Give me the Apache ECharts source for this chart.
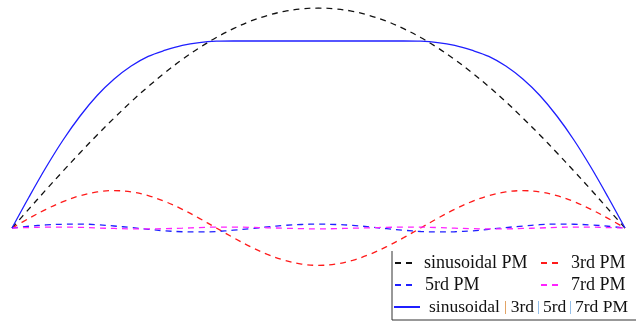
<!DOCTYPE html>
<html>
<head>
<meta charset="utf-8">
<script src="https://cdn.jsdelivr.net/npm/echarts@6/dist/echarts.min.js"></script>
<style>
  html, body { margin: 0; padding: 0; background: #fff; }
  #chart { width: 636px; height: 324px; }
</style>
</head>
<body>
<div id="chart"></div>
<script>
// Electrical angle (degrees) over one half period
const angles = [0,5,10,15,20,25,30,35,40,45,50,55,60,65,70,75,80,85,90,95,100,105,110,115,120,125,130,135,140,145,150,155,160,165,170,175,180];

// Normalised waveforms of each magnet configuration
const sinusoidalPM = [0,0.087,0.174,0.259,0.342,0.423,0.5,0.574,0.643,0.707,0.766,0.819,0.866,0.906,0.940,0.966,0.985,0.996,1,0.996,0.985,0.966,0.940,0.906,0.866,0.819,0.766,0.707,0.643,0.574,0.5,0.423,0.342,0.259,0.174,0.087,0];
const thirdPM = [0,0.044,0.085,0.120,0.147,0.164,0.170,0.164,0.147,0.120,0.085,0.044,0,-0.044,-0.085,-0.120,-0.147,-0.164,-0.170,-0.164,-0.147,-0.120,-0.085,-0.044,0,0.044,0.085,0.120,0.147,0.164,0.170,0.164,0.147,0.120,0.085,0.044,0];
const fifthPM = [0,0.008,0.014,0.017,0.018,0.015,0.009,0.002,-0.006,-0.013,-0.017,-0.018,-0.016,-0.010,-0.003,0.005,0.012,0.016,0.018,0.016,0.012,0.005,-0.003,-0.010,-0.016,-0.018,-0.017,-0.013,-0.006,0.002,0.009,0.015,0.018,0.017,0.014,0.008,0];
const seventhPM = [0,0.002,0.004,0.004,0.003,0,-0.002,-0.004,-0.004,-0.003,-0.001,0.002,0.004,0.004,0.003,0.001,-0.001,-0.003,-0.004,-0.003,-0.001,0.001,0.003,0.004,0.004,0.002,-0.001,-0.003,-0.004,-0.004,-0.002,0,0.003,0.004,0.004,0.002,0];
const combinedPM = [0,0.141,0.276,0.400,0.509,0.602,0.677,0.736,0.780,0.808,0.830,0.843,0.849,0.850,0.850,0.850,0.850,0.850,0.850,0.850,0.850,0.850,0.850,0.850,0.849,0.843,0.830,0.808,0.780,0.736,0.677,0.602,0.509,0.400,0.276,0.141,0];

const seriesNames = ['sinusoidal PM', '3rd PM', '5rd PM', '7rd PM', 'sinusoidal+3rd+5rd+7rd PM'];

const pairs = ys => angles.map((a, i) => [a, ys[i]]);

const FONT = '"Liberation Serif", "DejaVu Serif", serif';

function dashed(name, ys, color) {
  return {
    name, type: 'line', data: pairs(ys), smooth: 0.35, symbol: 'none',
    lineStyle: { color, width: 1.3, type: [6, 5] },
    itemStyle: { color }
  };
}

function legendItem(name, left, top, itemWidth, textPad, extra) {
  return Object.assign({
    data: [name], left, top, orient: 'horizontal', padding: 0,
    itemWidth, itemHeight: 12, selectedMode: false,
    itemStyle: { opacity: 0 },
    textStyle: { fontFamily: FONT, fontSize: 18, color: '#111', lineHeight: 20, padding: [0, 0, 0, textPad] }
  }, extra || {});
}

const chart = echarts.init(document.getElementById('chart'), null, { renderer: 'canvas' });

chart.setOption({
  animation: false,
  backgroundColor: '#ffffff',
  grid: { left: 12, right: 11, top: 8, bottom: 8 },
  xAxis: { type: 'value', min: 0, max: 180, show: false },
  yAxis: { type: 'value', min: -0.4, max: 1, show: false },
  legend: [
    legendItem(seriesNames[0], 394, 253, 18, 6),
    legendItem(seriesNames[1], 540, 253, 20, 5),
    legendItem(seriesNames[2], 394, 275, 18, 7),
    legendItem(seriesNames[3], 540, 275, 20, 5),
    legendItem(seriesNames[4], 393, 297, 26, 4, {
      formatter: () => '{t|sinusoidal}{o||}{t|3rd}{b||}{t|5rd}{b||}{t|7rd PM}',
      textStyle: {
        fontFamily: FONT, fontSize: 17.5, color: '#111', lineHeight: 20, padding: [0, 0, 0, 4],
        rich: {
          t: { fontFamily: FONT, fontSize: 17.5, color: '#111' },
          o: { fontFamily: FONT, fontSize: 14, color: '#d9822b', padding: [0, 4, 0, 4] },
          b: { fontFamily: FONT, fontSize: 14, color: '#6aa6e0', padding: [0, 3, 0, 3] }
        }
      }
    })
  ],
  graphic: [
    { type: 'line', shape: { x1: 392, y1: 251, x2: 392, y2: 320 }, style: { stroke: '#333', lineWidth: 1 } },
    { type: 'line', shape: { x1: 392, y1: 320, x2: 636, y2: 320 }, style: { stroke: '#333', lineWidth: 1 } }
  ],
  series: [
    dashed(seriesNames[0], sinusoidalPM, '#111111'),
    dashed(seriesNames[1], thirdPM, '#ff1a1a'),
    dashed(seriesNames[2], fifthPM, '#2020ff'),
    dashed(seriesNames[3], seventhPM, '#ff22ff'),
    {
      name: seriesNames[4], type: 'line', data: pairs(combinedPM), smooth: 0.35, symbol: 'none',
      lineStyle: { color: '#1f1fff', width: 1.3 },
      itemStyle: { color: '#1f1fff' }
    }
  ]
});
</script>
</body>
</html>
